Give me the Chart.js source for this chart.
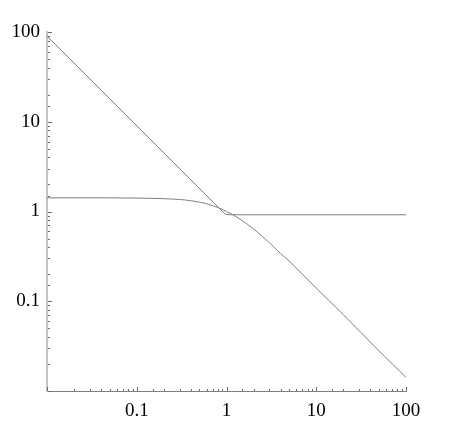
<!DOCTYPE html>
<html>
<head>
<meta charset="utf-8">
<script src="https://cdn.jsdelivr.net/npm/chart.js@4/dist/chart.umd.min.js"></script>
<style>
html,body{margin:0;padding:0;background:#fff;}
#c{display:block;}
</style>
</head>
<body>
<canvas id="c" width="462" height="436"></canvas>
<script>
// Curve A: steep 1/x-like branch, then flat
const curveAx = [0.01, 0.97, 1.1, 100];
const curveAy = [90, 0.93, 0.92, 0.92];
// Curve B: flat ~1.42, bends near 1, then falls with slope -1
const curveBx = [0.01, 0.05, 0.1, 0.2, 0.3, 0.4, 0.5, 0.6, 0.7, 0.8, 1, 1.2, 1.5, 2, 2.5, 3, 4, 5, 7, 10, 20, 50, 100];
const curveBy = [1.42, 1.42, 1.41, 1.39, 1.36, 1.32, 1.27, 1.22, 1.16, 1.11, 1.00, 0.91, 0.79, 0.64, 0.53, 0.45, 0.34, 0.28, 0.20, 0.14, 0.071, 0.028, 0.0142];
const xTickLabels = ['0.1', '1', '10', '100'];
const yTickLabels = ['0.1', '1', '10', '100'];

function pts(xs, ys){ return xs.map((x,i)=>({x:x, y:ys[i]})); }
function labelFor(list, v){
  for (const l of list){ if (Math.abs(Math.log10(v) - Math.log10(Number(l))) < 1e-6) return l; }
  return '';
}
const tickMarks = {
  id: 'tickMarks',
  afterDraw(chart){
    const ctx = chart.ctx, a = chart.chartArea;
    ctx.save();
    ctx.strokeStyle = '#6a6a6a';
    ctx.lineWidth = 1;
    const xs = chart.scales.x, ys = chart.scales.y;
    xs.ticks.forEach(t=>{
      const p = Math.round(xs.getPixelForValue(t.value)) + 0.5;
      const major = Math.abs(Math.log10(t.value) - Math.round(Math.log10(t.value))) < 1e-6;
      const len = major ? 4 : 2;
      ctx.beginPath(); ctx.moveTo(p, a.bottom); ctx.lineTo(p, a.bottom - len); ctx.stroke();
    });
    ys.ticks.forEach(t=>{
      const p = Math.round(ys.getPixelForValue(t.value)) + 0.5;
      const major = Math.abs(Math.log10(t.value) - Math.round(Math.log10(t.value))) < 1e-6;
      const len = major ? 4 : 2;
      ctx.beginPath(); ctx.moveTo(a.left + 1, p); ctx.lineTo(a.left + 1 + len, p); ctx.stroke();
    });
    ctx.restore();
  }
};
const lineStyle = {showLine:true, pointRadius:0, borderColor:'#808080', borderWidth:1, fill:false};
new Chart(document.getElementById('c'), {
  type: 'scatter',
  data: {
    datasets: [
      Object.assign({data: pts(curveAx, curveAy), tension:0}, lineStyle),
      Object.assign({data: pts(curveBx, curveBy), cubicInterpolationMode:'monotone'}, lineStyle)
    ]
  },
  options: {
    responsive:false, animation:false, devicePixelRatio:1,
    layout:{padding:{left:0, right:56, top:32, bottom:0}},
    plugins:{legend:{display:false}, tooltip:{enabled:false}},
    scales:{
      x:{
        type:'logarithmic', min:0.01, max:100,
        grid:{display:false, drawTicks:false},
        border:{display:true, color:'#808080', width:1},
        ticks:{autoSkip:false, maxRotation:0, padding:9, color:'#000',
          font:{family:'Liberation Serif', size:19},
          callback:(v)=>labelFor(xTickLabels, v)},
        afterFit:(s)=>{ s.height = 45; }
      },
      y:{
        type:'logarithmic', min:0.01, max:100,
        grid:{display:false, drawTicks:false},
        border:{display:true, color:'#c4c4c4', width:2},
        ticks:{autoSkip:false, padding:7, color:'#000',
          font:{family:'Liberation Serif', size:19},
          callback:(v)=>labelFor(yTickLabels, v)},
        afterFit:(s)=>{ s.width = 47; }
      }
    }
  },
  plugins:[tickMarks]
});
</script>
</body>
</html>
